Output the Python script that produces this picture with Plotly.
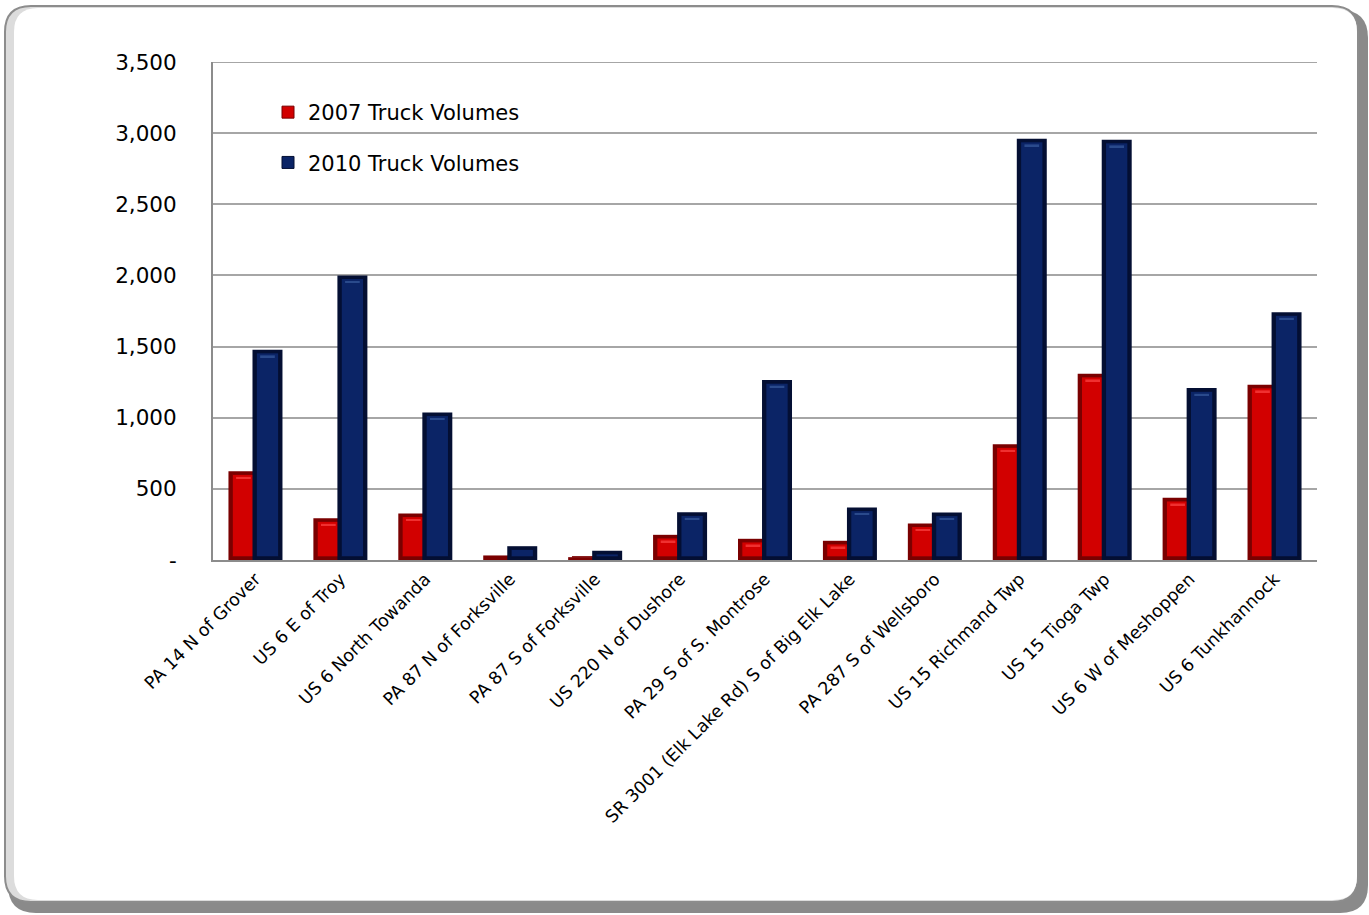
import plotly.graph_objects as go

categories = [
    "PA 14 N of Grover", "US 6 E of Troy", "US 6 North Towanda",
    "PA 87 N of Forksville", "PA 87 S of Forksville", "US 220 N of Dushore",
    "PA 29 S of S. Montrose", "SR 3001 (Elk Lake Rd) S of Big Elk Lake",
    "PA 287 S of Wellsboro", "US 15 Richmand Twp", "US 15 Tioga Twp",
    "US 6 W of Meshoppen", "US 6 Tunkhannock",
]
vol_2007 = [624, 294, 327, 32, 20, 177, 149, 135, 257, 814, 1309, 437, 1232]
vol_2010 = [1478, 2000, 1037, 97, 65, 336, 1265, 369, 334, 2961, 2954, 1208, 1742]
series_names = ["2007 Truck Volumes", "2010 Truck Volumes"]
ytick_vals = [0, 500, 1000, 1500, 2000, 2500, 3000, 3500]
ytick_text = ["-", "500", "1,000", "1,500", "2,000", "2,500", "3,000", "3,500"]

W, H = 1369, 915
L, R, T, B = 213, 1317, 62, 560
FONT = "DejaVu Sans"

RED, RED_EDGE, RED_HI = "#d20000", "#7a0000", "#f03030"
BLUE, BLUE_EDGE, BLUE_HI = "#0b2466", "#040f33", "#2a4a8c"

x_idx = list(range(len(categories)))
fig = go.Figure()

BW = 0.353
INSET_W = 0.045
INSET_V = 22

def add_series(vals, name, color, edge, hi, offset, group, rank):
    fig.add_trace(go.Bar(
        x=x_idx, y=vals, name=name, offset=offset, width=BW,
        marker=dict(color=edge, line=dict(width=0)),
        legendgroup=group, showlegend=False,
    ))
    inner = [max(v - 2 * INSET_V, 0) for v in vals]
    fig.add_trace(go.Bar(
        x=x_idx, y=inner, base=[INSET_V] * len(vals), offset=offset + INSET_W,
        width=BW - 2 * INSET_W, name=name,
        marker=dict(color=color, line=dict(color=edge, width=1)),
        legendgroup=group, showlegend=True, legendrank=rank, hoverinfo="skip",
    ))
    # bevel highlight stripe near the top of each bar
    hi_base = [v - INSET_V - 30 if v > 120 else 0 for v in vals]
    hi_len = [12 if v > 120 else 0 for v in vals]
    fig.add_trace(go.Bar(
        x=x_idx, y=hi_len, base=hi_base, offset=offset + 2 * INSET_W,
        width=BW - 4 * INSET_W,
        marker=dict(color=hi, line=dict(width=0)),
        legendgroup=group, showlegend=False, hoverinfo="skip",
    ))

add_series(vol_2007, series_names[0], RED, RED_EDGE, RED_HI, -0.318, "a", 1)
add_series(vol_2010, series_names[1], BLUE, BLUE_EDGE, BLUE_HI, -0.035, "b", 2)

def px2paper(px, py):
    return (px - L) / (R - L), (B - py) / (B - T)

def rrect(x0, y0, x1, y1, r):
    def p(x, y):
        a, b = px2paper(x, y)
        return f"{a:.5f},{b:.5f}"
    return (
        f"M {p(x0 + r, y0)} L {p(x1 - r, y0)} Q {p(x1, y0)} {p(x1, y0 + r)} "
        f"L {p(x1, y1 - r)} Q {p(x1, y1)} {p(x1 - r, y1)} "
        f"L {p(x0 + r, y1)} Q {p(x0, y1)} {p(x0, y1 - r)} "
        f"L {p(x0, y0 + r)} Q {p(x0, y0)} {p(x0 + r, y0)} Z"
    )

shapes = [
    dict(type="path", xref="paper", yref="paper", path=rrect(8, 10, 1368, 913, 28),
         fillcolor="#8a8a8a", line=dict(width=0), layer="below"),
    dict(type="path", xref="paper", yref="paper", path=rrect(5, 6, 1358, 902, 26),
         fillcolor="#dcdcdc", line=dict(color="#8c8c8c", width=2), layer="below"),
    dict(type="path", xref="paper", yref="paper", path=rrect(14, 8, 1357, 900, 24),
         fillcolor="white", line=dict(width=0), layer="below"),
    dict(type="line", xref="paper", yref="y", x0=0, x1=1, y0=ytick_vals[-1], y1=ytick_vals[-1],
         line=dict(color="#a6a6a6", width=2), layer="below"),
]

fig.update_layout(
    width=W, height=H,
    margin=dict(l=L, r=W - R, t=T, b=H - B),
    paper_bgcolor="white", plot_bgcolor="rgba(0,0,0,0)",
    barmode="overlay",
    font=dict(family=FONT, color="black"),
    shapes=shapes,
    showlegend=True,
    legend=dict(
        x=(268 - L) / (R - L), y=(B - 92) / (B - T), xanchor="left", yanchor="top",
        bgcolor="rgba(0,0,0,0)", font=dict(size=21, family=FONT),
        tracegroupgap=20, itemwidth=30,
    ),
    xaxis=dict(
        tickmode="array", tickvals=x_idx, ticktext=categories,
        range=[-0.5, len(categories) - 0.5],
        tickangle=-45, tickfont=dict(size=17.5, family=FONT),
        showline=True, linecolor="#8c8c8c", linewidth=2,
        showgrid=False, ticks="",
    ),
    yaxis=dict(
        range=[0, 3500], tickmode="array", tickvals=ytick_vals, ticktext=ytick_text,
        tickfont=dict(size=21.5, family=FONT),
        showline=True, linecolor="#8c8c8c", linewidth=2,
        showgrid=True, gridcolor="#a6a6a6", gridwidth=2,
        zeroline=False, ticks="", ticklabelstandoff=30,
    ),
)

fig.write_html("out.html")
